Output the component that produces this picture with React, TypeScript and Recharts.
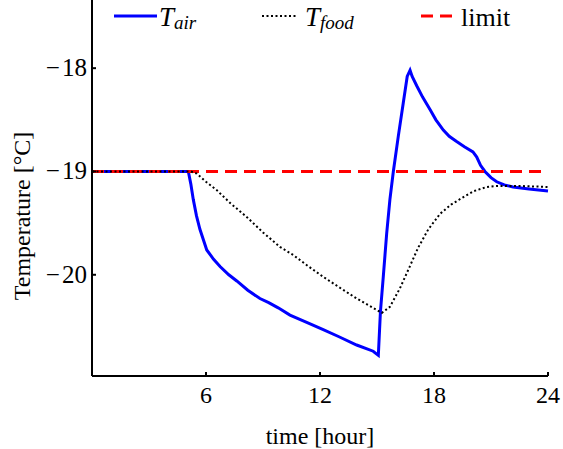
import { LineChart, Line, XAxis, YAxis } from "recharts";

const airTime = [0, 5.07, 5.2, 5.33, 5.5, 5.68, 6.04, 6.4, 6.74, 7.2, 7.62, 8.2, 8.84, 9.3, 9.8, 10.42, 11.3, 12.17, 13.0, 13.93, 14.8, 15.07, 15.18, 15.33, 15.51, 15.68, 15.86, 16.12, 16.38, 16.59, 16.74, 16.85, 17.09, 17.4, 17.79, 18.1, 18.49, 18.8, 19.19, 19.6, 20.05, 20.25, 20.45, 20.68, 21.0, 21.3, 21.7, 22.16, 23, 24];
const airTemp = [-19, -19, -19.12, -19.27, -19.43, -19.56, -19.76, -19.85, -19.92, -20.0, -20.06, -20.15, -20.23, -20.27, -20.32, -20.39, -20.46, -20.53, -20.6, -20.68, -20.74, -20.78, -20.36, -20.02, -19.6, -19.27, -19.0, -18.66, -18.34, -18.08, -18.02, -18.08, -18.17, -18.28, -18.4, -18.5, -18.6, -18.66, -18.71, -18.76, -18.81, -18.86, -18.94, -19.0, -19.06, -19.1, -19.13, -19.15, -19.17, -19.19];

const foodTime = [0, 5.2, 5.51, 6.0, 6.56, 7.3, 8.14, 9.0, 9.89, 10.6, 11.4, 12.17, 13.0, 13.93, 14.6, 15.25, 15.68, 16.21, 16.7, 17.16, 17.7, 18.32, 18.9, 19.53, 20.1, 20.77, 21.3, 22.5, 24];
const foodTemp = [-19, -19, -19.02, -19.1, -19.18, -19.31, -19.44, -19.59, -19.73, -19.81, -19.92, -20.02, -20.12, -20.23, -20.3, -20.37, -20.31, -20.13, -19.93, -19.74, -19.56, -19.41, -19.32, -19.25, -19.19, -19.15, -19.14, -19.14, -19.15];

const limitTime = [0, 24];
const limitTemp = [-19, -19];

const xTicks = [6, 12, 18, 24];
const yTicks = [-20, -19, -18];

const airData = airTime.map((t, i) => ({ t, v: airTemp[i] }));
const foodData = foodTime.map((t, i) => ({ t, v: foodTemp[i] }));
const limitData = limitTime.map((t, i) => ({ t, v: limitTemp[i] }));

const FONT = "Liberation Serif";

const XTick = ({ x, y, payload }: any) => (
  <g>
    <line x1={x} x2={x} y1={y} y2={y - 4} stroke="#000" strokeWidth={2} />
    <text x={x} y={y + 27} textAnchor="middle" fontSize={24} fontFamily={FONT} fill="#000">
      {payload.value}
    </text>
  </g>
);

const YTick = ({ x, y, payload }: any) => (
  <g>
    <line x1={x} x2={x + 4} y1={y} y2={y} stroke="#000" strokeWidth={2} />
    <text x={x - 5} y={y + 8} textAnchor="end" fontSize={25} fontFamily={FONT} fill="#000">
      {"\u2212\u200A" + Math.abs(payload.value)}
    </text>
  </g>
);

const App = () => {
  return (
    <div style={{ position: "absolute", left: 0, top: 0, width: 563, height: 449, background: "#fff", fontFamily: FONT }}>
      <LineChart width={563} height={449} margin={{ top: 0, right: 15, left: 0, bottom: 0 }}>
        <XAxis
          dataKey="t"
          type="number"
          domain={[0, 24]}
          ticks={xTicks}
          height={73}
          tickSize={0}
          tickMargin={0}
          tickLine={false}
          tick={<XTick />}
          axisLine={{ stroke: "#000", strokeWidth: 2 }}
          allowDuplicatedCategory={false}
        />
        <YAxis
          dataKey="v"
          type="number"
          domain={[-20.98, -17.34]}
          ticks={yTicks}
          width={92}
          tickSize={0}
          tickMargin={0}
          tickLine={false}
          tick={<YTick />}
          axisLine={{ stroke: "#000", strokeWidth: 2 }}
          allowDataOverflow
        />
        <Line data={airData} dataKey="v" type="linear" stroke="#0000ff" strokeWidth={3} dot={false} isAnimationActive={false} />
        <Line data={limitData} dataKey="v" type="linear" stroke="#ff0000" strokeWidth={3} strokeDasharray="12 7" dot={false} isAnimationActive={false} />
        <Line data={foodData} dataKey="v" type="linear" stroke="#000" strokeWidth={2} strokeDasharray="2 2.5" dot={false} isAnimationActive={false} />
      </LineChart>
      <svg width={563} height={40} style={{ position: "absolute", left: 0, top: 0 }}>
        <line x1={114} x2={157} y1={16} y2={16} stroke="#0000ff" strokeWidth={3} />
        <text x={159} y={26} fontSize={27} fontFamily={FONT} fontStyle="italic" fill="#000">
          T<tspan fontSize={19} dy={3}>air</tspan>
        </text>
        <line x1={262} x2={298} y1={16} y2={16} stroke="#000" strokeWidth={2} strokeDasharray="2 2.5" />
        <text x={305} y={26} fontSize={27} fontFamily={FONT} fontStyle="italic" fill="#000">
          T<tspan fontSize={19} dy={3}>food</tspan>
        </text>
        <line x1={421} x2={453} y1={16} y2={16} stroke="#ff0000" strokeWidth={3} strokeDasharray="12 7" />
        <text x={461} y={26} fontSize={26} fontFamily={FONT} fill="#000">
          limit
        </text>
      </svg>
      <div
        style={{
          position: "absolute",
          left: 22,
          top: 216,
          transform: "translate(-50%, -50%) rotate(-90deg)",
          fontSize: 24,
          whiteSpace: "nowrap",
        }}
      >
        Temperature [°C]
      </div>
      <div
        style={{
          position: "absolute",
          left: 320,
          top: 436,
          transform: "translate(-50%, -50%)",
          fontSize: 24,
          whiteSpace: "nowrap",
        }}
      >
        time [hour]
      </div>
    </div>
  );
};

export default App;
